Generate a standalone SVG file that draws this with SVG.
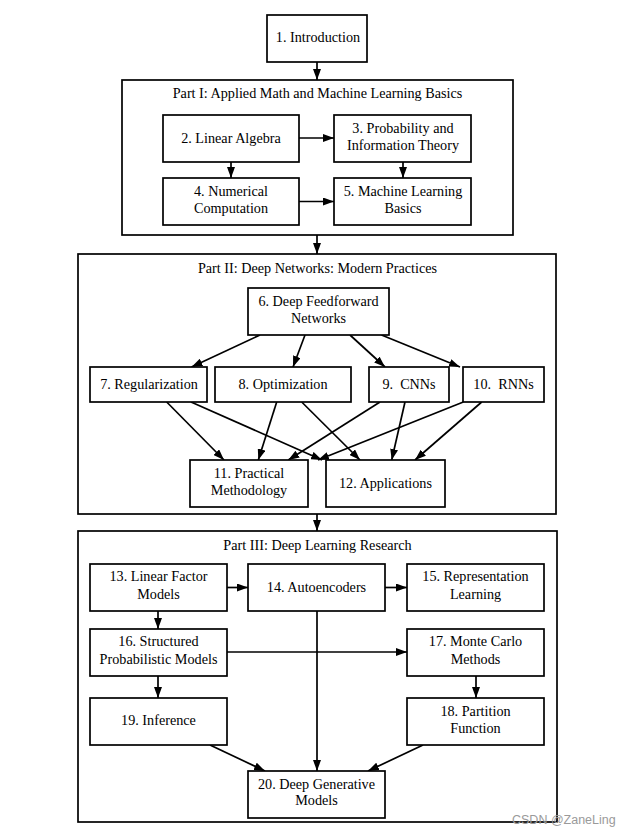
<svg xmlns="http://www.w3.org/2000/svg" width="635" height="836" viewBox="0 0 635 836">
<defs>
<marker id="ah" markerUnits="userSpaceOnUse" markerWidth="11" markerHeight="8" refX="11" refY="4" orient="auto">
<path d="M0,0 L11,4 L0,8 z" fill="#000"/>
</marker>
<style>
.box{fill:#fff;stroke:#000;stroke-width:1.7}
.part{fill:none;stroke:#000;stroke-width:1.7}
.t{font-family:"Liberation Serif","DejaVu Serif",serif;font-size:14.2px;fill:#000;text-anchor:middle}
.c line{stroke:#000;stroke-width:1.7;marker-end:url(#ah)}
.wm{font-family:"Liberation Sans","DejaVu Sans",sans-serif;font-size:12.5px;fill:#9a9a9a}
</style>
</defs>
<rect width="635" height="836" fill="#fff"/>

<g id="part1"><rect class="part" x="122" y="80" width="391" height="155"/><text class="t" x="317.5" y="98">Part I: Applied Math and Machine Learning Basics</text></g>
<g id="part2"><rect class="part" x="78" y="254" width="478" height="260"/><text class="t" x="317.5" y="273">Part II: Deep Networks: Modern Practices</text></g>
<g id="part3"><rect class="part" x="78" y="531" width="479" height="291"/><text class="t" x="317.5" y="549.5">Part III: Deep Learning Research</text></g>

<g class="c" id="connectors">
<line x1="317" y1="62" x2="317" y2="80"/>
<line x1="299" y1="138" x2="334" y2="138"/>
<line x1="231" y1="162" x2="231" y2="178"/>
<line x1="403" y1="162" x2="403" y2="178"/>
<line x1="299" y1="201.5" x2="334" y2="201.5"/>
<line x1="317" y1="235" x2="317" y2="254"/>
<line x1="260" y1="335" x2="191.5" y2="367"/>
<line x1="305" y1="335" x2="293" y2="367"/>
<line x1="350" y1="335" x2="385" y2="367"/>
<line x1="381.5" y1="335" x2="460" y2="367"/>
<line x1="166.7" y1="402" x2="224" y2="460"/>
<line x1="191" y1="402" x2="322" y2="460"/>
<line x1="276.7" y1="402" x2="258.3" y2="460"/>
<line x1="301.7" y1="402" x2="360" y2="460"/>
<line x1="380" y1="402" x2="288.3" y2="460"/>
<line x1="405" y1="402" x2="391.7" y2="460"/>
<line x1="463.3" y1="402" x2="318" y2="460"/>
<line x1="481.7" y1="402" x2="415" y2="460"/>
<line x1="317" y1="514" x2="317" y2="531"/>
<line x1="227" y1="587.5" x2="248" y2="587.5"/>
<line x1="385" y1="587.5" x2="407" y2="587.5"/>
<line x1="158" y1="611" x2="158" y2="629"/>
<line x1="227" y1="652" x2="407" y2="652"/>
<line x1="158" y1="676" x2="158" y2="698"/>
<line x1="476" y1="676" x2="476" y2="698"/>
<line x1="317" y1="611" x2="317" y2="771"/>
<line x1="210" y1="745" x2="265" y2="771"/>
<line x1="423" y1="745" x2="368" y2="771"/>
</g>

<g id="n1"><rect class="box" x="267" y="15" width="100" height="47"/><text class="t" x="318" y="42">1. Introduction</text></g>
<g id="n2"><rect class="box" x="163" y="115" width="136" height="47"/><text class="t" x="231" y="142.5">2. Linear Algebra</text></g>
<g id="n3"><rect class="box" x="334" y="115" width="137" height="47"/><text class="t" x="403" y="132.5">3. Probability and</text><text class="t" x="403" y="150">Information Theory</text></g>
<g id="n4"><rect class="box" x="163" y="178" width="136" height="47"/><text class="t" x="231" y="195.5">4. Numerical</text><text class="t" x="231" y="213">Computation</text></g>
<g id="n5"><rect class="box" x="334" y="178" width="137" height="47"/><text class="t" x="403" y="195.5">5. Machine Learning</text><text class="t" x="403" y="213">Basics</text></g>

<g id="n6"><rect class="box" x="248" y="288" width="141" height="47"/><text class="t" x="318.5" y="305.5">6. Deep Feedforward</text><text class="t" x="318.5" y="323">Networks</text></g>
<g id="n7"><rect class="box" x="90" y="367" width="117" height="35"/><text class="t" x="149" y="388.5">7. Regularization</text></g>
<g id="n8"><rect class="box" x="215" y="367" width="136" height="35"/><text class="t" x="283" y="388.5">8. Optimization</text></g>
<g id="n9"><rect class="box" x="369" y="367" width="80" height="35"/><text class="t" x="409" y="388.5">9.&#160; CNNs</text></g>
<g id="n10"><rect class="box" x="463" y="367" width="81" height="35"/><text class="t" x="503.5" y="388.5">10.&#160; RNNs</text></g>
<g id="n11"><rect class="box" x="190" y="460" width="118" height="47"/><text class="t" x="249" y="477.5">11. Practical</text><text class="t" x="249" y="495">Methodology</text></g>
<g id="n12"><rect class="box" x="326" y="460" width="119" height="47"/><text class="t" x="385.5" y="487.5">12. Applications</text></g>

<g id="n13"><rect class="box" x="90" y="564" width="137" height="47"/><text class="t" x="158.5" y="581">13. Linear Factor</text><text class="t" x="158.5" y="598.5">Models</text></g>
<g id="n14"><rect class="box" x="248" y="564" width="137" height="47"/><text class="t" x="316.5" y="591.5">14. Autoencoders</text></g>
<g id="n15"><rect class="box" x="407" y="564" width="137" height="47"/><text class="t" x="475.5" y="581">15. Representation</text><text class="t" x="475.5" y="598.5">Learning</text></g>
<g id="n16"><rect class="box" x="90" y="629" width="137" height="47"/><text class="t" x="158.5" y="646">16. Structured</text><text class="t" x="158.5" y="663.5">Probabilistic Models</text></g>
<g id="n17"><rect class="box" x="407" y="629" width="137" height="47"/><text class="t" x="475.5" y="646">17. Monte Carlo</text><text class="t" x="475.5" y="663.5">Methods</text></g>
<g id="n19"><rect class="box" x="90" y="698" width="137" height="47"/><text class="t" x="158.5" y="724.5">19. Inference</text></g>
<g id="n18"><rect class="box" x="407" y="698" width="137" height="47"/><text class="t" x="475.5" y="715.5">18. Partition</text><text class="t" x="475.5" y="733">Function</text></g>
<g id="n20"><rect class="box" x="248" y="771" width="137" height="47"/><text class="t" x="316.5" y="789">20. Deep Generative</text><text class="t" x="316.5" y="804.5">Models</text></g>

<text class="wm" x="512" y="824">CSDN @ZaneLing</text>
</svg>
